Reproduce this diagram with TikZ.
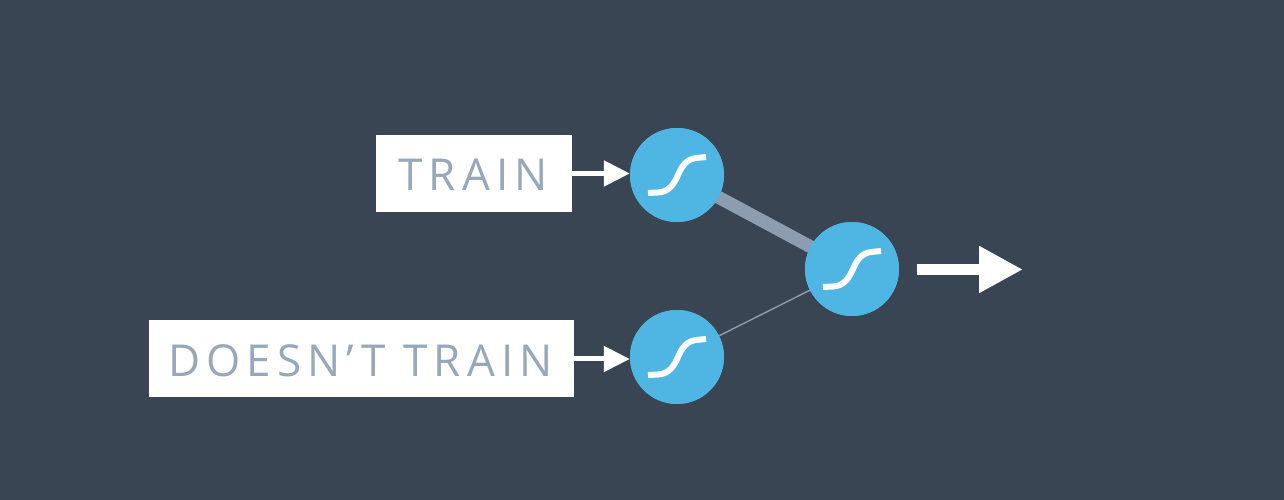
\documentclass[tikz,border=0pt]{standalone}
\usepackage{fontspec}
\setmainfont{Open Sans}
\usetikzlibrary{arrows.meta}
\definecolor{bgc}{HTML}{3A4554}
\definecolor{nodec}{HTML}{4FB6E3}
\definecolor{txtc}{HTML}{98A8BA}
\definecolor{linkc}{HTML}{8C9DB0}
\newfontfamily\labelfont[LetterSpace=14]{Open Sans}
\tikzset{
  labelbox/.style={fill=white,inner sep=0pt,anchor=center},
  labeltext/.style={text=txtc,inner sep=0pt,font=\labelfont\fontsize{44}{44}\selectfont},
  neuron/.style={circle,fill=nodec,minimum size=94pt,inner sep=0pt},
  curveline/.style={white,line width=6pt},
  smallarrow/.style={white,line width=5pt,-{Triangle[length=26pt,width=25pt]}},
  bigarrow/.style={white,line width=11.5pt,-{Triangle[length=44pt,width=44pt]}},
  thicklink/.style={linkc,line width=13pt},
  thinlink/.style={linkc,line width=1.4pt},
}
\newcommand{\sigcurve}[1]{%
  \draw[curveline] ([shift={(-29pt,-18pt)}]#1.center) -- ([shift={(-19pt,-17.5pt)}]#1.center)
    .. controls ([shift={(-8pt,-17pt)}]#1.center) and ([shift={(-3pt,-9pt)}]#1.center) .. ([shift={(1pt,0pt)}]#1.center)
    .. controls ([shift={(5pt,9pt)}]#1.center) and ([shift={(9pt,15.5pt)}]#1.center) .. ([shift={(19pt,17pt)}]#1.center)
    -- ([shift={(29pt,18pt)}]#1.center);}
\begin{document}
\begin{tikzpicture}[x=1pt,y=1pt]
\useasboundingbox[fill=bgc] (0,0) rectangle (1284,500);
% y measured from the bottom: 500 - y in the reference
\node[labelbox,minimum width=196pt,minimum height=77pt] (train) at (474,326.5) {};
\node[labelbox,minimum width=424.5pt,minimum height=77pt] (nottrain) at (361.25,141) {};
\node[labeltext] (trainlabel) at (473,325.5) {TRAIN};
\node[labeltext] (nottrainlabel) at (360.5,139.5) {DOESN’T TRAIN};
\node[neuron] (n1) at (677,325) {};
\node[neuron] (n2) at (677,143) {};
\node[neuron] (n3) at (852,231) {};
\coordinate (outstart) at (917,230.5);
\coordinate (outend) at (1023,230.5);
\draw[thicklink] (n1.center) -- (n3.center);
\draw[thinlink] (n2.center) -- (n3.center);
\node[neuron] at (n1.center) {};
\node[neuron] at (n2.center) {};
\node[neuron] at (n3.center) {};
\draw[smallarrow] (train.east) -- (n1.west|-train.east);
\draw[smallarrow] (nottrain.east) -- (n2.west|-nottrain.east);
\draw[bigarrow] (outstart) -- (outend);
\sigcurve{n1}
\sigcurve{n2}
\sigcurve{n3}
\end{tikzpicture}
\end{document}
